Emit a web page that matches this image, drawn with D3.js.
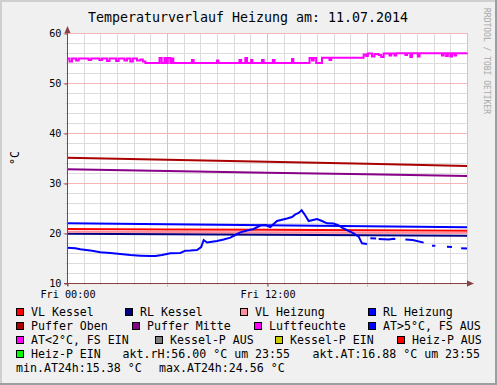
<!DOCTYPE html>
<html>
<head>
<meta charset="utf-8">
<script src="https://cdn.jsdelivr.net/npm/d3@7"></script>
<style>
  body { margin: 0; background: #fff; }
  svg { display: block; font-family: "DejaVu Sans Mono", monospace; }
</style>
</head>
<body>
<svg width="497" height="385"></svg>
<script>
// Chart data
const title = "Temperaturverlauf Heizung am: 11.07.2014";
const yLabel = "°C";
const xTickHours = [0, 12];
const xTickLabels = ["Fri 00:00", "Fri 12:00"];
const yTicks = [10, 20, 30, 40, 50, 60];

// slow series sampled every 6 hours
const slowHours = [0, 6, 12, 18, 24];
const vlKessel = [20.8, 20.72, 20.64, 20.55, 20.47];
const rlKessel = [19.87, 19.77, 19.67, 19.57, 19.47];
const vlHeizung = [20.25, 20.2, 20.15, 20.1, 20.05];
const rlHeizung = [21.93, 21.73, 21.53, 21.33, 21.13];
const pufferOben = [35.05, 34.65, 34.25, 33.85, 33.4];
const pufferMitte = [32.73, 32.4, 32.07, 31.73, 31.4];

// Luftfeuchte (step values, [hour, value])
const rhData = [
  [0.0, 54.9], [0.15, 54.3], [0.3, 54.9], [0.55, 54.5], [0.7, 54.9], [1.3, 54.6], [1.45, 54.9],
  [1.95, 54.6], [2.1, 54.9], [2.4, 54.4], [2.55, 54.9], [2.95, 54.4], [3.1, 54.9], [3.45, 54.5],
  [3.6, 54.9], [3.8, 54.3], [3.95, 54.9], [4.2, 54.5], [4.4, 54.7], [4.55, 54.3], [4.7, 54.0],
  [5.55, 55.0], [5.68, 54.0], [5.85, 55.0], [5.95, 54.0], [6.05, 55.0], [6.2, 54.0], [6.3, 54.9],
  [6.38, 54.0], [7.5, 54.6], [7.6, 54.0], [9.0, 54.5], [9.08, 54.0], [10.35, 54.6], [10.45, 54.0],
  [10.7, 55.0], [10.8, 54.0], [11.05, 54.6], [11.12, 54.0], [11.7, 54.6], [11.8, 54.0],
  [12.35, 54.6], [12.45, 54.0], [13.5, 54.8], [13.58, 54.0], [14.55, 55.0], [14.7, 54.5],
  [14.8, 55.0], [14.95, 54.0], [15.3, 55.05], [15.75, 54.6], [15.85, 55.05],
  [17.8, 55.7], [17.95, 55.4], [18.05, 55.9], [18.3, 55.3], [18.45, 55.8], [18.7, 55.6],
  [18.85, 55.2], [19.0, 55.9], [19.35, 55.5], [19.45, 55.9], [19.65, 55.5], [19.75, 55.94],
  [20.3, 55.6], [20.4, 55.94], [20.6, 55.2], [20.7, 55.94], [21.05, 55.3], [21.15, 55.94],
  [22.5, 55.5], [22.6, 55.94], [22.75, 55.4], [22.85, 55.94], [23.0, 55.3], [23.1, 55.94],
  [23.25, 55.5], [23.35, 55.94], [24, 56.0]
];

// Aussentemperatur ([hour, value], null = no data)
const atData = [
  [0, 17.07], [0.5, 16.95], [0.8, 16.75], [1.5, 16.45], [2.0, 16.15], [2.6, 16.0], [3.2, 15.8],
  [3.8, 15.6], [4.4, 15.47], [5.0, 15.38], [5.3, 15.4], [5.7, 15.6], [6.2, 15.93], [6.8, 16.0],
  [7.1, 16.47], [7.4, 16.5], [7.8, 16.6], [8.05, 17.2], [8.2, 18.6], [8.4, 18.1], [8.6, 18.2],
  [9.0, 18.4], [9.4, 18.7], [9.8, 19.07], [10.1, 19.6], [10.4, 20.13], [10.8, 20.5], [11.2, 20.8],
  [11.6, 21.5], [11.9, 21.6], [12.2, 21.2], [12.6, 22.4], [13.2, 22.9], [13.5, 23.2], [13.7, 23.73],
  [13.9, 24.0], [14.08, 24.56], [14.3, 23.5], [14.5, 22.4], [15.0, 22.8], [15.3, 22.4],
  [15.6, 21.93], [16.0, 21.9], [16.3, 21.5], [16.6, 20.9], [17.2, 19.93], [17.5, 19.27],
  [17.7, 17.93], [18.0, 17.8], null,
  [18.2, 18.93], [18.55, 18.9], null, [18.7, 18.8], [19.3, 18.7], [19.6, 18.85], [19.7, 18.8], null,
  [20.3, 18.7], [20.75, 18.6], [21.4, 18.07], null, [21.9, 17.47], [22.1, 17.45], null,
  [22.8, 17.27], [23.1, 17.2], null, [23.65, 16.95], [24, 16.88]
];

// legend
const legendLabels = [
  ["VL Kessel", "RL Kessel", "VL Heizung", "RL Heizung"],
  ["Puffer Oben", "Puffer Mitte", "Luftfeuchte", "AT>5°C, FS AUS"],
  ["AT<2°C, FS EIN", "Kessel-P AUS", "Kessel-P EIN", "Heiz-P AUS"],
  ["Heiz-P EIN"]
];
const legendColors = [
  ["#ff0000", "#000080", "#ff8c9c", "#0000ff"],
  ["#aa0000", "#880088", "#ff00ff", "#0000ff"],
  ["#ff00ff", "#808080", "#cccc00", "#ff0000"],
  ["#00ff00"]
];
const statLines = [
  ["akt.rH:56.00 °C um 23:55", "akt.AT:16.88 °C um 23:55"],
  ["min.AT24h:15.38 °C", "max.AT24h:24.56 °C"]
];

// layout
const W = 497, H = 385;
const legendX = [[16, 125, 240, 368], [16, 132, 254, 368], [16, 155, 275, 397], [16]];
const statX = [[122.5, 312.5], [16, 159]];

const svg = d3.select("svg");

// background with rrdtool style shading
svg.append("rect").attr("width", W).attr("height", H).attr("fill", "#f0f0f0");
svg.append("path").attr("d", `M0,0H${W}V2H2V${H}H0Z`).attr("fill", "#cfcfcf");
svg.append("path").attr("d", `M${W},${H}H0V${H - 2}H${W - 2}V0H${W}Z`).attr("fill", "#9e9e9e");

const x = d3.scaleLinear().domain([0, 24]).range([67, 467]);
const y = d3.scaleLinear().domain([10, 60]).range([283, 33]);

svg.append("rect")
  .attr("x", 67).attr("y", 33).attr("width", 400).attr("height", 250)
  .attr("fill", "#ffffff");

// minor grid
const grid = svg.append("g").attr("shape-rendering", "crispEdges");
grid.selectAll("line.hmin")
  .data(d3.range(12, 60, 2).filter(v => v % 10 !== 0))
  .enter().append("line")
  .attr("x1", 65).attr("x2", 467)
  .attr("y1", d => y(d) + 0.5).attr("y2", d => y(d) + 0.5)
  .attr("stroke", "#dcdcdc");
grid.selectAll("line.vmin")
  .data(d3.range(1, 25).filter(h => h % 6 !== 0))
  .enter().append("line")
  .attr("x1", d => Math.round(x(d)) + 0.5).attr("x2", d => Math.round(x(d)) + 0.5)
  .attr("y1", 33).attr("y2", 285)
  .attr("stroke", "#dcdcdc");

// major grid
grid.selectAll("line.hmaj")
  .data(yTicks.slice(1))
  .enter().append("line")
  .attr("x1", 63).attr("x2", 467)
  .attr("y1", d => y(d) + 0.5).attr("y2", d => y(d) + 0.5)
  .attr("stroke", "#f5b5b5");
grid.selectAll("line.vmaj")
  .data([6, 12, 18, 24])
  .enter().append("line")
  .attr("x1", d => Math.round(x(d)) + 0.5).attr("x2", d => Math.round(x(d)) + 0.5)
  .attr("y1", 33).attr("y2", 287)
  .attr("stroke", "#f5b5b5");

// data lines
const slowLine = vals => d3.line()
  .x((d, i) => x(slowHours[i]))
  .y(d => y(d))(vals);

const plot = svg.append("g").attr("fill", "none").attr("stroke-width", 2);
[
  [vlKessel, "#ff0000"],
  [rlKessel, "#000080"],
  [vlHeizung, "#ff8c9c"],
  [rlHeizung, "#0000ff"],
  [pufferOben, "#aa0000"],
  [pufferMitte, "#880088"]
].forEach(([vals, col]) => {
  plot.append("path").attr("d", slowLine(vals)).attr("stroke", col);
});

plot.append("path")
  .attr("d", d3.line().curve(d3.curveStepAfter).x(d => x(d[0])).y(d => y(d[1]))(rhData))
  .attr("stroke", "#ff00ff");

plot.append("path")
  .attr("d", d3.line().defined(d => d !== null).x(d => x(d[0])).y(d => y(d[1]))(atData))
  .attr("stroke", "#0000ff");

// axes
const axisColor = "#884040";
const yAxis = d3.axisLeft(y).tickValues(yTicks).tickSize(3).tickPadding(3);
const yg = svg.append("g").attr("transform", "translate(67.5,0.5)").call(yAxis);
yg.select(".domain").remove();
yg.selectAll("line").attr("stroke", axisColor);
yg.selectAll("text")
  .style("font-family", '"DejaVu Sans Mono", monospace')
  .style("font-size", "10.2px").attr("fill", "#000");

const xAxis = d3.axisBottom(x).tickValues(xTickHours)
  .tickFormat((d, i) => xTickLabels[i]).tickSize(3).tickPadding(4);
const xg = svg.append("g").attr("transform", "translate(0.5,283.5)").call(xAxis);
xg.select(".domain").remove();
xg.selectAll("line").attr("stroke", axisColor);
xg.selectAll("text")
  .style("font-family", '"DejaVu Sans Mono", monospace')
  .style("font-size", "10.2px").attr("fill", "#000");

svg.append("line")
  .attr("x1", 67.5).attr("x2", 67.5).attr("y1", 286).attr("y2", 30)
  .attr("stroke", axisColor).attr("shape-rendering", "crispEdges");
svg.append("line")
  .attr("x1", 64).attr("x2", 470).attr("y1", 283.5).attr("y2", 283.5)
  .attr("stroke", axisColor).attr("shape-rendering", "crispEdges");
svg.append("path").attr("d", "M67.5,26L64.5,33L70.5,33Z").attr("fill", axisColor);
svg.append("path").attr("d", "M474,283.5L467,280.5L467,286.5Z").attr("fill", axisColor);

// texts
svg.append("text")
  .attr("x", 248).attr("y", 21.5)
  .attr("text-anchor", "middle")
  .style("font-size", "13.3px")
  .text(title);

svg.append("text")
  .attr("transform", "translate(18.5,158) rotate(-90)")
  .attr("text-anchor", "middle")
  .style("font-size", "11.6px")
  .text(yLabel);

svg.append("text")
  .attr("transform", "translate(483.5,8) rotate(90)")
  .style("font-size", "8px")
  .attr("fill", "#a8a8a8")
  .text("RRDTOOL / TOBI OETIKER");

// legend
const lg = svg.append("g").style("font-size", "11.6px");
legendLabels.forEach((row, r) => {
  row.forEach((lab, c) => {
    const bx = legendX[r][c], by = 308 + r * 14;
    lg.append("rect")
      .attr("x", bx + 0.5).attr("y", by + 0.5).attr("width", 7).attr("height", 7)
      .attr("fill", legendColors[r][c]).attr("stroke", "#000")
      .attr("shape-rendering", "crispEdges");
    lg.append("text").attr("x", bx + 15).attr("y", by + 7.5).text(lab);
  });
});
statLines.forEach((row, r) => {
  row.forEach((s, c) => {
    lg.append("text").attr("x", statX[r][c]).attr("y", 308 + (r + 3) * 14 + 7.5).text(s);
  });
});
</script>
</body>
</html>
